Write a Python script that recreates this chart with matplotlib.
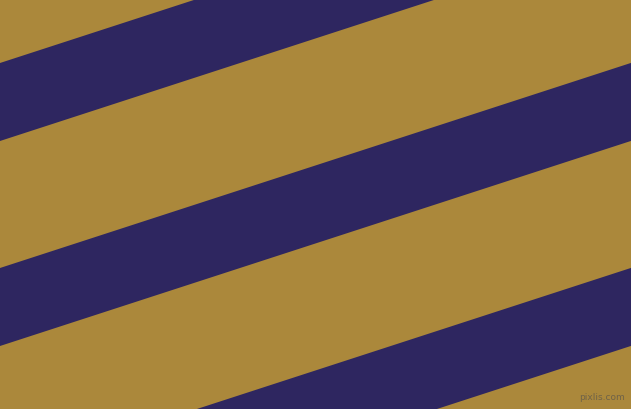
import numpy as np
import matplotlib.pyplot as plt

# canvas size in pixels
width_px = 631
height_px = 410

slope = 0.325             # rise per pixel of x
band_tops = [64, 269, 474] # where each navy band's top edge meets x = 0
band_height = 78          # vertical thickness of a navy band

gold = '#ab883b'
navy = '#2e2660'

fig = plt.figure(figsize=(width_px / 100, height_px / 100), dpi=100)
ax = fig.add_axes([0, 0, 1, 1])
ax.set_facecolor(gold)

x = np.array([0, width_px])
for top in band_tops:
    upper = top - slope * x
    lower = upper + band_height
    ax.fill_between(x, upper, lower, color=navy, linewidth=0)

# faint watermark, bottom right
ax.text(625, 398, 'pixlis.com', fontsize=6.5, color='#6f6248',
        ha='right', va='center')

ax.set_xlim(0, width_px)
ax.set_ylim(height_px, 0)
ax.axis('off')
fig.savefig('out.png', dpi=100, facecolor=gold)
